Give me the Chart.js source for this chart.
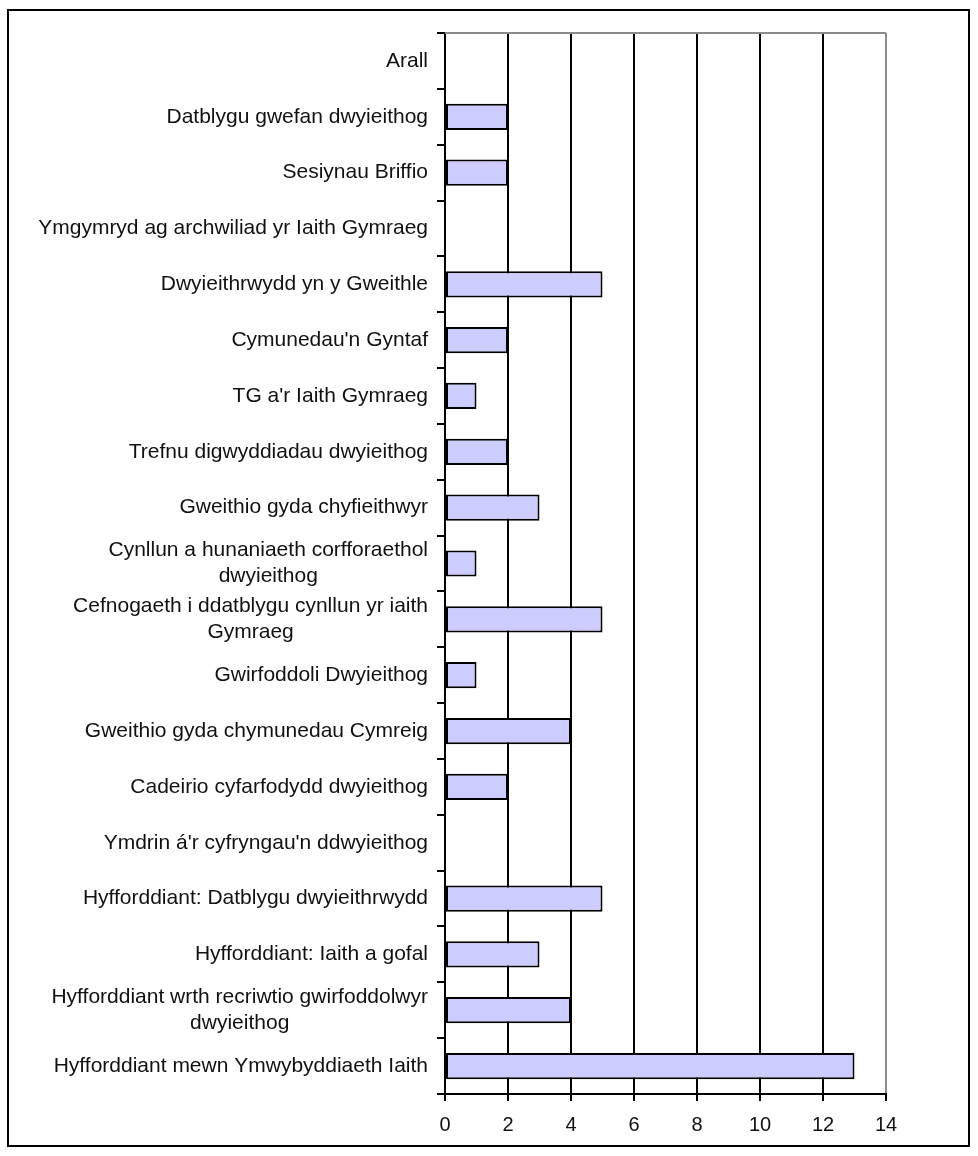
<!DOCTYPE html>
<html>
<head>
<meta charset="utf-8">
<script src="https://cdn.jsdelivr.net/npm/chart.js@4"></script>
<style>
    html, body { margin: 0; padding: 0; background: #fff; }
    #wrap { position: relative; width: 978px; height: 1156px; }
</style>
</head>
<body>
<div id="wrap"><canvas id="chart" width="978" height="1156"></canvas></div>
<script>
const categories = [
    ['Arall'],
    ['Datblygu gwefan dwyieithog'],
    ['Sesiynau Briffio'],
    ['Ymgymryd ag archwiliad yr Iaith Gymraeg'],
    ['Dwyieithrwydd yn y Gweithle'],
    ["Cymunedau'n Gyntaf"],
    ["TG a'r Iaith Gymraeg"],
    ['Trefnu digwyddiadau dwyieithog'],
    ['Gweithio gyda chyfieithwyr'],
    ['Cynllun a hunaniaeth corfforaethol', 'dwyieithog'],
    ['Cefnogaeth i ddatblygu cynllun yr iaith', 'Gymraeg'],
    ['Gwirfoddoli Dwyieithog'],
    ['Gweithio gyda chymunedau Cymreig'],
    ['Cadeirio cyfarfodydd dwyieithog'],
    ["Ymdrin á'r cyfryngau'n ddwyieithog"],
    ['Hyfforddiant: Datblygu dwyieithrwydd'],
    ['Hyfforddiant: Iaith a gofal'],
    ['Hyfforddiant wrth recriwtio gwirfoddolwyr', 'dwyieithog'],
    ['Hyfforddiant mewn Ymwybyddiaeth Iaith']
];
const counts = [0, 2, 2, 0, 5, 2, 1, 2, 3, 1, 5, 1, 4, 2, 0, 5, 3, 4, 13];
const xTicks = [0, 2, 4, 6, 8, 10, 12, 14];

const FONT = '"Liberation Sans", Arial, sans-serif';

// draws the page border, the grey top edge and the category labels
const framePlugin = {
    id: 'frame',
    beforeDraw(chart) {
        const c = chart.ctx;
        c.save();
        c.fillStyle = '#fff';
        c.fillRect(0, 0, chart.width, chart.height);
        c.strokeStyle = '#000';
        c.lineWidth = 2;
        c.strokeRect(8, 10, 961, 1136);
        c.restore();
    },
    afterDraw(chart) {
        const c = chart.ctx;
        const area = chart.chartArea;
        const yScale = chart.scales.y;
        c.save();
        c.strokeStyle = '#8c8c8c';
        c.lineWidth = 2;
        c.beginPath();
        c.moveTo(area.left, area.top);
        c.lineTo(area.right, area.top);
        c.stroke();

        c.fillStyle = '#111';
        c.font = '21px ' + FONT;
        c.textBaseline = 'middle';
        c.textAlign = 'center';
        const lineH = 26;
        categories.forEach((lines, i) => {
            const yMid = yScale.getPixelForValue(i);
            const widest = Math.max(...lines.map((l) => c.measureText(l).width));
            const cx = 428 - widest / 2;
            lines.forEach((line, j) => {
                const y = yMid + (j - (lines.length - 1) / 2) * lineH;
                c.fillText(line, cx, y);
            });
        });
        c.restore();
    }
};

new Chart(document.getElementById('chart'), {
    type: 'bar',
    data: {
        labels: categories.map((l) => l.join(' ')),
        datasets: [{
            data: counts,
            backgroundColor: '#ccccff',
            borderColor: '#000',
            borderWidth: 2,
            borderSkipped: false,
            barPercentage: 0.47,
            categoryPercentage: 1
        }]
    },
    options: {
        indexAxis: 'y',
        responsive: false,
        animation: false,
        layout: { padding: { left: 0, top: 33, right: 92, bottom: 12 } },
        plugins: {
            legend: { display: false },
            tooltip: { enabled: false }
        },
        scales: {
            x: {
                min: 0,
                max: 14,
                afterBuildTicks: (scale) => {
                    scale.ticks = xTicks.map((v) => ({ value: v }));
                },
                afterFit: (scale) => { scale.height = 50; },
                ticks: {
                    color: '#111',
                    font: { family: FONT, size: 20 },
                    padding: 12
                },
                grid: {
                    color: (ctx) => (ctx.tick && ctx.tick.value === 14 ? '#8c8c8c' : '#000'),
                    tickColor: '#000',
                    lineWidth: 2,
                    tickLength: 7
                },
                border: { color: '#000', width: 2 }
            },
            y: {
                afterFit: (scale) => { scale.width = 445; },
                ticks: { display: false },
                grid: {
                    offset: true,
                    drawOnChartArea: false,
                    drawTicks: true,
                    tickLength: 8,
                    color: '#000',
                    lineWidth: 2
                },
                border: { color: '#000', width: 2 }
            }
        }
    },
    plugins: [framePlugin]
});
</script>
</body>
</html>
